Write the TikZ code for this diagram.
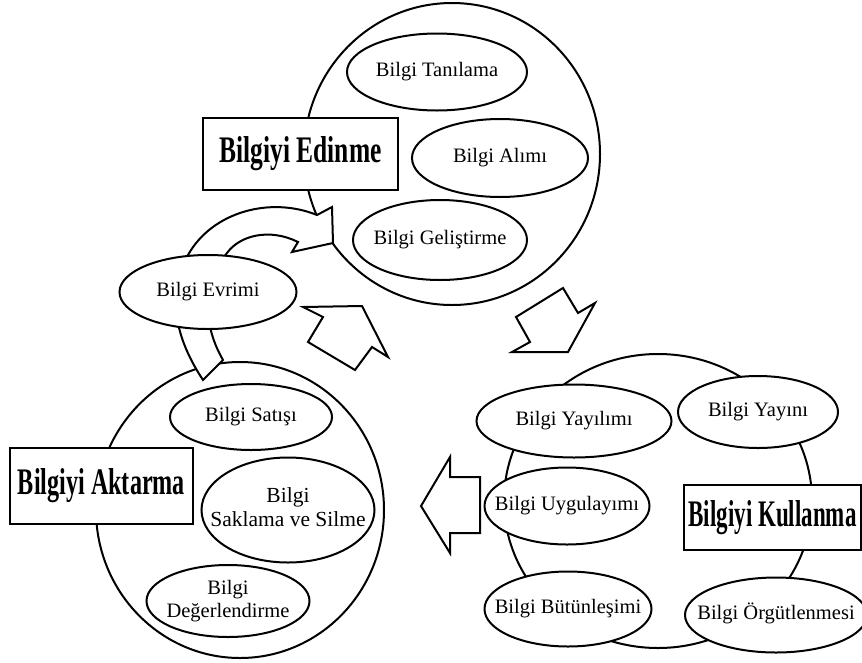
\documentclass[tikz,border=0pt]{standalone}
\usepackage{fontspec}
\usepackage{graphicx}
\setmainfont{Liberation Serif}
\usetikzlibrary{shapes.geometric}
\newcommand{\ctrtext}[1]{\makebox[0pt]{\begin{tabular}{@{}c@{}}#1\end{tabular}}}
\begin{document}
\begin{tikzpicture}[x=1pt,y=-1pt,line width=2pt,line join=miter,
  ring/.style={draw,fill=white,ellipse,inner sep=0pt},
  oval/.style={draw,fill=white,ellipse,inner sep=0pt,font=\fontsize{20.5}{23}\selectfont},
  titlebox/.style={draw,fill=white,rectangle,inner sep=0pt,font=\bfseries},
  blockarrow/.style={draw,fill=white,line join=miter}
]
\useasboundingbox (0,0) rectangle (862,662);

% big circles
\node[ring,minimum width=296,minimum height=302] (c1) at (452,154) {};
\node[ring,minimum width=288,minimum height=296] (c2) at (240,510) {};
\node[ring,minimum width=308,minimum height=294] (c3) at (658,501) {};

% curved arrow around Bilgi Evrimi
\draw[blockarrow] (203,380) .. controls (170,330) and (170,290) .. (188,255)
  .. controls (212,212) and (270,196) .. (317,215) -- (332,207) -- (333,243)
  -- (292,252) -- (298,242) .. controls (270,228) and (240,235) .. (227,253)
  .. controls (205,280) and (200,320) .. (223,360) -- cycle;

% block arrows
\draw[blockarrow] (303,307) -- (362,306) -- (388,357) -- (372,347) -- (355,370) -- (308,342) -- (323,317) -- cycle;
\draw[blockarrow] (563,288) -- (578,313) -- (595,303) -- (568,352) -- (512,352) -- (530,342) -- (516,317) -- cycle;
\draw[blockarrow] (421,506) -- (450,457) -- (450,477) -- (480,477) -- (480,533) -- (450,533) -- (450,553) -- cycle;

% top circle contents
\node[oval,minimum width=180,minimum height=77] (tan) at (437,72) {\ctrtext{Bilgi Tanılama}};
\node[oval,minimum width=176,minimum height=78] (alim) at (500,158) {\ctrtext{Bilgi Alımı}};
\node[oval,minimum width=174,minimum height=80] (gel) at (440,240) {\ctrtext{Bilgi Geliştirme}};
\node[titlebox,minimum width=195,minimum height=72] (edin) at (300.5,154) {\resizebox{162pt}{26pt}{Bilgiyi Edinme}};

\node[oval,minimum width=177,minimum height=74] (evr) at (208,292) {\ctrtext{Bilgi Evrimi}};

% bottom-left circle contents
\node[oval,minimum width=162,minimum height=66] (sat) at (251,417) {\ctrtext{Bilgi Satışı}};
\node[oval,minimum width=173,minimum height=105,font=\fontsize{21.5}{24}\selectfont] (sak) at (288,510) {\ctrtext{Bilgi\\Saklama ve Silme}};
\node[oval,minimum width=163,minimum height=72] (deg) at (228,601) {\ctrtext{Bilgi\\Değerlendirme}};
\node[titlebox,minimum width=183,minimum height=76] (akt) at (101.5,486) {\resizebox{167pt}{26pt}{Bilgiyi Aktarma}};

% bottom-right circle contents
\node[oval,minimum width=195,minimum height=73] (yay) at (574,421) {\ctrtext{Bilgi Yayılımı}};
\node[oval,minimum width=160,minimum height=72] (yayin) at (758,412) {\ctrtext{Bilgi Yayını}};
\node[oval,minimum width=165,minimum height=77] (uyg) at (567,506) {\ctrtext{Bilgi Uygulayımı}};
\node[oval,minimum width=167,minimum height=75] (but) at (568,609) {\ctrtext{Bilgi Bütünleşimi}};
\node[oval,minimum width=182,minimum height=75] (org) at (776,615) {\ctrtext{Bilgi Örgütlenmesi}};
\node[titlebox,minimum width=177,minimum height=65] (kul) at (772.5,517.5) {\resizebox{168pt}{26pt}{Bilgiyi Kullanma}};
\end{tikzpicture}
\end{document}
